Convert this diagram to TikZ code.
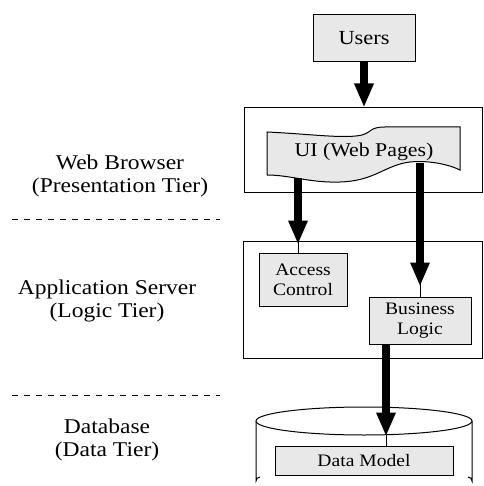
\documentclass[tikz,border=0pt]{standalone}
\usepackage{fontspec}
\setmainfont[FakeStretch=1.12]{Liberation Serif}
\usetikzlibrary{arrows.meta}
\definecolor{boxgray}{RGB}{232,232,232}

\begin{document}
\begin{tikzpicture}[x=1pt, y=-1pt,
  box/.style={rectangle, draw, line width=1pt, fill=boxgray, align=center, inner sep=0pt},
  frame/.style={rectangle, draw, line width=1pt, inner sep=0pt},
  tier/.style={align=center, font=\fontsize{21}{23}\selectfont},
  arrow/.style={line width=8pt, -{Triangle[width=18pt,length=24pt]}},
  tail/.style={line width=0.9pt},
  sep/.style={line width=0.9pt, dash pattern=on 6pt off 6pt}
]
\useasboundingbox (0,0) rectangle (483,486);

\node[tier] (web) at (120,176) {Web Browser\\(Presentation Tier)};
\node[tier] (logic) at (107,301) {Application Server\\(Logic Tier)};
\node[tier] (data) at (107,440) {Database\\(Data Tier)};
\draw[sep] (12,219) -- (220,219);
\draw[sep] (12,395) -- (220,395);

\node[box, minimum width=102pt, minimum height=47pt, font=\fontsize{20}{22}\selectfont] (users) at (364,38) {Users};
\node[frame, minimum width=238pt, minimum height=84pt] (browser) at (363,150) {};
\node[frame, minimum width=239pt, minimum height=117pt] (server) at (362.5,299.5) {};

\draw[line width=1pt, fill=boxgray] (267,132) .. controls (310,134) and (345,139) .. (362,135)
  .. controls (372,132) and (370,127) .. (385,127) -- (460,127) -- (460,170)
  .. controls (450,165) and (430,160) .. (410,162)
  .. controls (385,165) and (375,181) .. (340,182)
  .. controls (310,183) and (290,175) .. (267,175) -- cycle;
\node (ui) at (364,152) {\fontsize{19.5}{21}\selectfont UI (Web Pages)};

\node[box, minimum width=88pt, minimum height=53pt, font=\fontsize{17.5}{20}\selectfont] (acl) at (303,279.5) {Access\\Control};
\node[box, minimum width=102pt, minimum height=47pt, font=\fontsize{17.5}{20}\selectfont] (bl) at (420,320.5) {Business\\Logic};

\draw[line width=1pt, fill=white] (256,421) -- (256,481) arc (180:270:4) (472,421) -- (472,481) arc (0:-90:4);
\draw[line width=1pt, fill=white] (364,421) ellipse [x radius=108, y radius=14];
\node[box, minimum width=178pt, minimum height=29pt, font=\fontsize{17.5}{20}\selectfont] (dm) at (364,460.5) {Data Model};

\coordinate (uileft) at (298,178);
\coordinate (uiright) at (bl.north |- 0,163);
\coordinate (accin) at ([xshift=-5pt]acl.north);
\coordinate (dbin) at ([xshift=22pt]dm.north);

\draw[arrow] (users.south) -- (users.south |- browser.north);
\draw[tail] (uileft) -- (accin);
\draw[arrow, shorten >=8pt] (uileft) -- (accin);
\draw[tail] (uiright) -- (bl.north);
\draw[arrow, shorten >=10pt] (uiright) -- (bl.north);
\draw[tail] (dbin |- bl.south) -- (dbin);
\draw[arrow, shorten >=9pt] (dbin |- bl.south) -- (dbin);

\end{tikzpicture}
\end{document}
